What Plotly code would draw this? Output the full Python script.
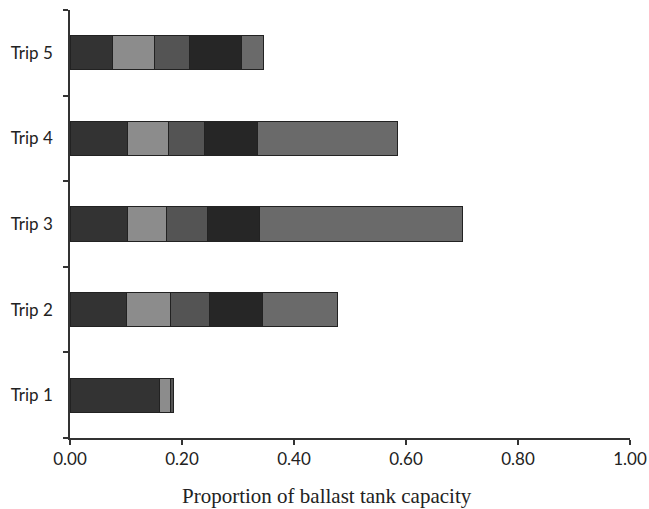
import plotly.graph_objects as go

trips = ["Trip 1", "Trip 2", "Trip 3", "Trip 4", "Trip 5"]
seg1 = [0.159, 0.101, 0.102, 0.102, 0.075]
seg2 = [0.020, 0.079, 0.071, 0.073, 0.076]
seg3 = [0.006, 0.069, 0.072, 0.066, 0.062]
seg4 = [0.000, 0.094, 0.094, 0.093, 0.093]
seg5 = [0.000, 0.135, 0.362, 0.251, 0.040]
series = [seg1, seg2, seg3, seg4, seg5]
colors = ["#333333", "#8c8c8c", "#545454", "#262626", "#6a6a6a"]
x_ticks = [0, 0.2, 0.4, 0.6, 0.8, 1.0]

fig = go.Figure()
for vals, c in zip(series, colors):
    fig.add_trace(go.Bar(
        y=trips, x=vals, orientation="h",
        marker=dict(color=c, line=dict(color="#222222", width=1)),
        showlegend=False,
    ))

fig.add_annotation(
    text="Proportion of ballast tank capacity",
    xref="paper", yref="paper", x=0.459, y=-0.135,
    xanchor="center", yanchor="middle", showarrow=False,
    font=dict(family="Liberation Serif", size=21, color="#222222"),
)

fig.update_layout(
    barmode="stack",
    bargap=0.6,
    width=649, height=509,
    margin=dict(l=70, r=19, t=10, b=71, autoexpand=False),
    plot_bgcolor="white", paper_bgcolor="white",
    xaxis=dict(
        range=[0, 1.0], tickvals=x_ticks, tickformat=".2f",
        showgrid=False, zeroline=False, automargin=False,
        showline=True, linecolor="#333333", linewidth=1.5,
        ticks="outside", ticklen=5, tickcolor="#333333", tickwidth=1.5,
        tickfont=dict(family="Lato", size=17, color="#222222"),
    ),
    yaxis=dict(
        categoryorder="array", categoryarray=trips,
        showgrid=False, zeroline=False, automargin=False,
        showline=True, linecolor="#333333", linewidth=1.5,
        ticks="outside", ticklen=5, tickcolor="#333333", tickwidth=1.5,
        tickson="boundaries",
        tickfont=dict(family="Lato", size=17, color="#222222"),
        ticklabelstandoff=12,
    ),
)

fig.write_html("out.html")
